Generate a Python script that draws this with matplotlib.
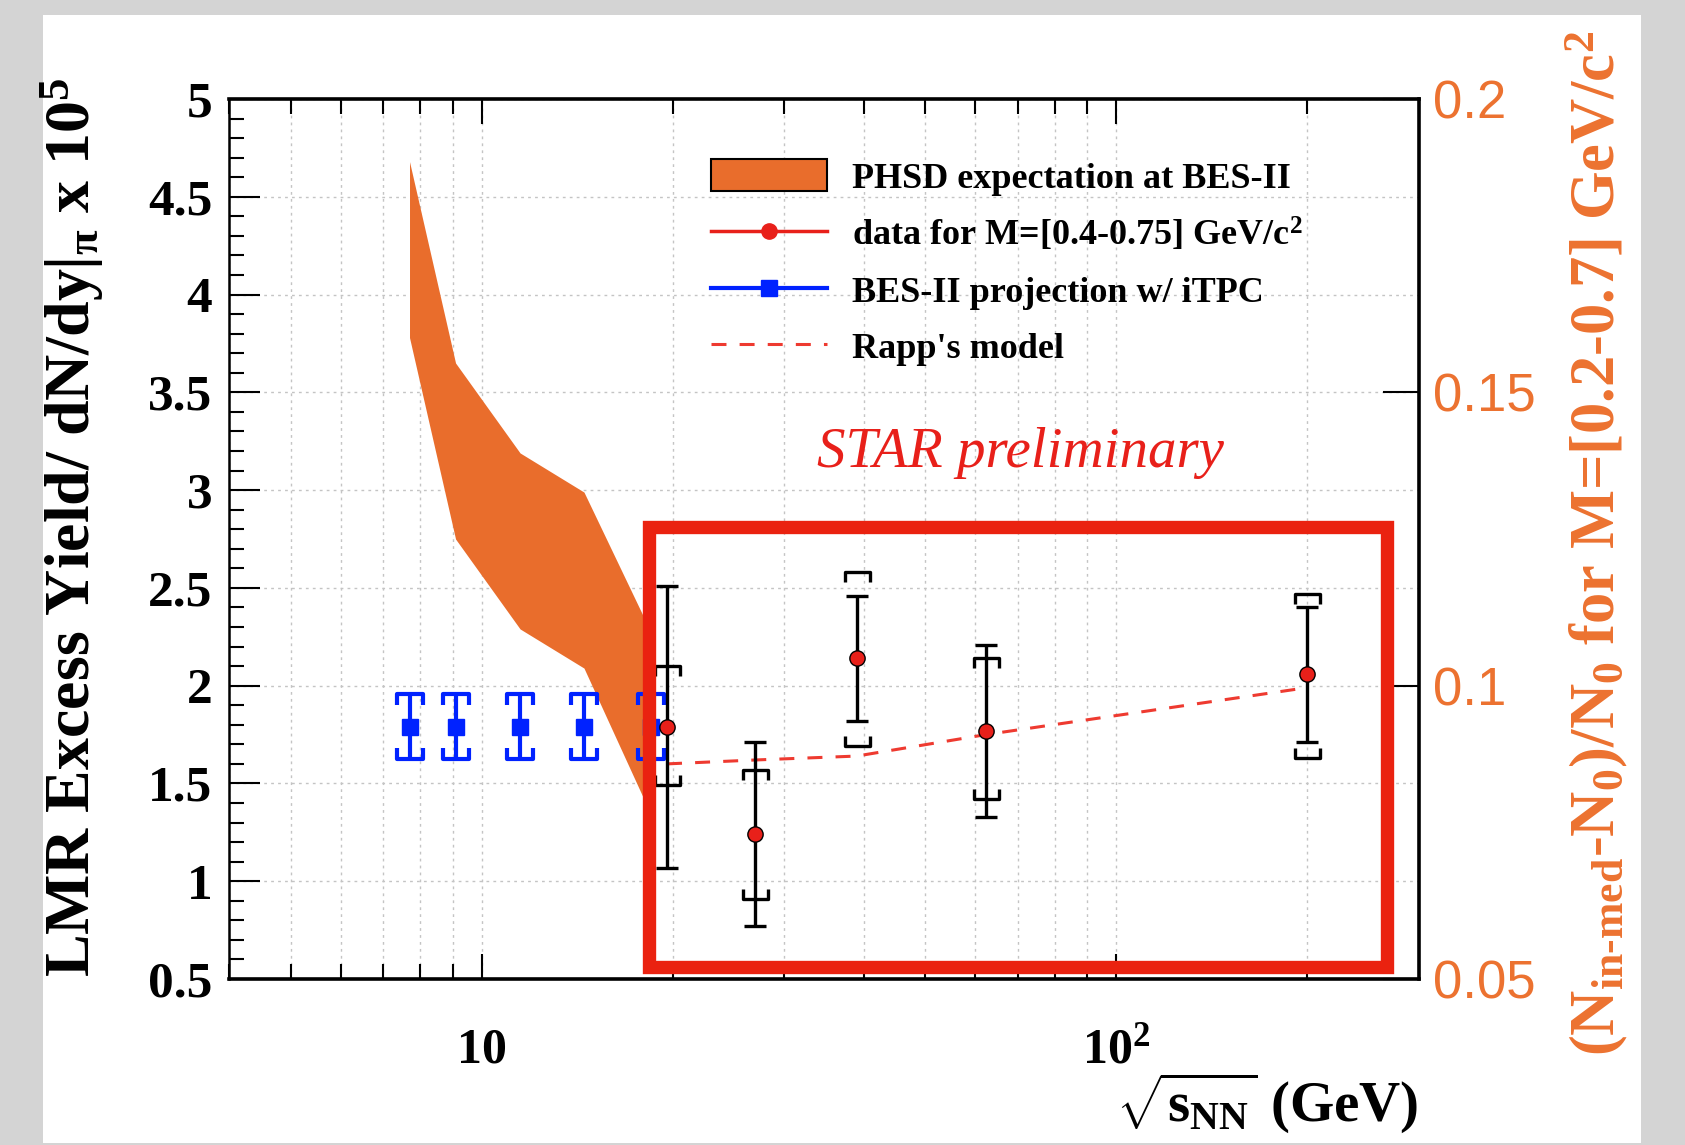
import numpy as np
import matplotlib
matplotlib.use('Agg')
import matplotlib.pyplot as plt
from matplotlib.path import Path
from matplotlib.patches import Rectangle, Patch
from matplotlib.lines import Line2D
from matplotlib.ticker import FixedLocator, MultipleLocator, NullFormatter, LogLocator

# ---------------- data ----------------
phsd_energy = [7.7, 9.1, 11.5, 14.5, 18.2]
phsd_low = [3.78, 2.75, 2.29, 2.09, 1.39]
phsd_high = [4.68, 3.65, 3.19, 2.99, 2.32]

data_energy = [19.6, 27.0, 39.0, 62.4, 200.0]
data_yield = [1.79, 1.24, 2.14, 1.77, 2.06]
data_stat_up = [0.72, 0.47, 0.32, 0.44, 0.34]
data_stat_dn = [0.72, 0.47, 0.32, 0.44, 0.35]
data_sys_up = [0.31, 0.33, 0.44, 0.37, 0.41]
data_sys_dn = [0.30, 0.33, 0.45, 0.35, 0.43]

bes2_energy = [7.7, 9.1, 11.5, 14.5, 18.5]
bes2_yield = [1.79, 1.79, 1.79, 1.79, 1.79]
bes2_err = [0.165, 0.165, 0.165, 0.165, 0.165]

rapp_energy = [19.6, 27.0, 39.0, 62.4, 200.0]
rapp_yield = [1.60, 1.62, 1.64, 1.75, 1.99]

xtick_vals = [10, 100]
xtick_labels = ['10', '10$^{2}$']
ytick_vals = [0.5, 1, 1.5, 2, 2.5, 3, 3.5, 4, 4.5, 5]
ytick_labels = ['0.5', '1', '1.5', '2', '2.5', '3', '3.5', '4', '4.5', '5']
rtick_vals = [0.05, 0.1, 0.15, 0.2]
rtick_labels = ['0.05', '0.1', '0.15', '0.2']

legend_labels = ['PHSD expectation at BES-II',
                 'data for M=[0.4-0.75] GeV/c$^{2}$',
                 'BES-II projection w/ iTPC',
                 "Rapp's model"]

# ---------------- style ----------------
ORANGE = '#E96D2C'
ORANGE_TXT = '#EC7230'
RED = '#E8201A'
RED_DASH = '#EE3A30'
BLUE = '#0022FF'
BOX_RED = '#EA2210'

plt.rcParams['font.family'] = ['Liberation Serif', 'DejaVu Serif']
plt.rcParams['font.weight'] = 'bold'
plt.rcParams['mathtext.fontset'] = 'custom'
plt.rcParams['mathtext.rm'] = 'Liberation Serif:bold'
plt.rcParams['mathtext.it'] = 'Liberation Serif:italic:bold'
plt.rcParams['mathtext.bf'] = 'Liberation Serif:bold'

W, H = 1685, 1145
fig = plt.figure(figsize=(W / 100, H / 100), dpi=100, facecolor='#D4D4D4')


def fx(x):
    return x / W


def fy(y):
    return 1 - y / H


# white page area
fig.add_artist(Rectangle((fx(43), fy(1143)), fx(1641) - fx(43), fy(15) - fy(1143),
                         transform=fig.transFigure, facecolor='white', edgecolor='none', zorder=-10))

ax = fig.add_axes([fx(229), fy(979), fx(1419) - fx(229), fy(99) - fy(979)])
ax.set_facecolor('none')
ax.set_xscale('log')
ax.set_xlim(4, 300)
ax.set_ylim(0.5, 5)

# grid
grid_kw = dict(color='#C4C4C4', lw=1.0, ls=(0, (2, 3)))
ax.grid(True, which='both', axis='x', **grid_kw)
ax.grid(True, which='major', axis='y', **grid_kw)
ax.set_axisbelow(True)

# PHSD band
ax.fill_between(phsd_energy, phsd_low, phsd_high, color=ORANGE, lw=0, zorder=2)

# bracket markers for systematic uncertainties
upper_bracket = Path([(-1, -0.8), (-1, 0), (1, 0), (1, -0.8)],
                     [Path.MOVETO, Path.LINETO, Path.LINETO, Path.LINETO])
lower_bracket = Path([(-1, 0.8), (-1, 0), (1, 0), (1, 0.8)],
                     [Path.MOVETO, Path.LINETO, Path.LINETO, Path.LINETO])

# BES-II projection
ax.errorbar(bes2_energy, bes2_yield, yerr=bes2_err, fmt='s', color=BLUE, ms=11,
            elinewidth=3, capsize=0, zorder=4)
b_up = np.array(bes2_yield) + np.array(bes2_err)
b_dn = np.array(bes2_yield) - np.array(bes2_err)
ax.plot(bes2_energy, b_up, ls='none', marker=upper_bracket, ms=19, mfc='none',
        mec=BLUE, mew=3, zorder=4)
ax.plot(bes2_energy, b_dn, ls='none', marker=lower_bracket, ms=19, mfc='none',
        mec=BLUE, mew=3, zorder=4)

# Rapp's model
ax.plot(rapp_energy, rapp_yield, color=RED_DASH, lw=2.2, ls=(0, (4.9, 4.3)), zorder=3)

# data
ax.errorbar(data_energy, data_yield, yerr=[data_stat_dn, data_stat_up], fmt='none',
            ecolor='black', elinewidth=2.4, capsize=8, capthick=2.4, zorder=5)
s_up = np.array(data_yield) + np.array(data_sys_up)
s_dn = np.array(data_yield) - np.array(data_sys_dn)
ax.plot(data_energy, s_up, ls='none', marker=upper_bracket, ms=18, mfc='none',
        mec='black', mew=2.4, zorder=5)
ax.plot(data_energy, s_dn, ls='none', marker=lower_bracket, ms=18, mfc='none',
        mec='black', mew=2.4, zorder=5)
ax.plot(data_energy, data_yield, ls='none', marker='o', ms=11, mfc=RED, mec='black',
        mew=1.0, zorder=6)

# axes / ticks
ax.xaxis.set_major_locator(FixedLocator(xtick_vals))
ax.xaxis.set_minor_locator(LogLocator(base=10, subs=np.arange(2, 10)))
ax.xaxis.set_minor_formatter(NullFormatter())
ax.set_xticklabels(xtick_labels)
ax.yaxis.set_major_locator(FixedLocator(ytick_vals))
ax.set_yticklabels(ytick_labels)
ax.yaxis.set_minor_locator(MultipleLocator(0.1))
ax.tick_params(which='both', direction='in', top=True, right=False, color='black')
ax.tick_params(axis='x', which='major', length=18, width=1.5, labelsize=36, pad=60)
ax.tick_params(axis='x', which='minor', length=11, width=1.5)
ax.tick_params(axis='y', which='major', length=22, width=1.5, labelsize=37, pad=12)
ax.tick_params(axis='y', which='minor', length=11, width=1.5)
for lbl in ax.get_xticklabels():
    lbl.set_va('baseline')
for sp in ax.spines.values():
    sp.set_linewidth(2.6)
ax.spines['left'].set_linewidth(1.8)

# right axis
ax2 = ax.twinx()
ax2.set_ylim(0.05, 0.2)
ax2.yaxis.set_major_locator(FixedLocator(rtick_vals))
ax2.set_yticklabels(rtick_labels)
ax2.tick_params(axis='y', which='major', direction='in', length=26, width=1.5,
                labelsize=38, pad=10, labelcolor=ORANGE_TXT)
for lbl in ax2.get_yticklabels():
    lbl.set_fontfamily('Liberation Sans')
    lbl.set_fontweight('normal')
for sp in ax2.spines.values():
    sp.set_visible(False)

# labels
fig.text(fx(72), fy(527),
         r'LMR Excess Yield/ dN/dy|$_{\mathrm{\pi}}$ x 10$^{\mathrm{5}}$',
         rotation=90, ha='center', va='center', fontsize=46, fontweight='bold')
fig.text(fx(1597), fy(543),
         r'(N$_{\mathrm{in\text{-}med}}$-N$_{\mathrm{0}}$)/N$_{\mathrm{0}}$ for M=[0.2-0.7] GeV/c$^{\mathrm{2}}$',
         rotation=90, ha='center', va='center', fontsize=45, fontweight='bold',
         color=ORANGE_TXT)
fig.text(fx(1418), fy(1103), r'$\sqrt{\mathrm{s}_{\mathrm{NN}}}$ (GeV)',
         ha='right', va='center', fontsize=41, fontweight='bold')
fig.text(fx(1020), fy(453), 'STAR preliminary', ha='center', va='center',
         fontsize=41, fontstyle='italic', fontweight='normal', color=RED)

# legend
handles = [Patch(facecolor=ORANGE, edgecolor='black', lw=1.5),
           Line2D([], [], color=RED, lw=2.5, marker='o', ms=11, mfc=RED, mec=RED),
           Line2D([], [], color=BLUE, lw=3, marker='s', ms=11, mfc=BLUE, mec=BLUE),
           Line2D([], [], color=RED_DASH, lw=2.2, ls=(0, (4.9, 4.3)))]
leg = ax.legend(handles, legend_labels, loc='upper left',
                bbox_to_anchor=(fx(711), fy(159)), bbox_transform=fig.transFigure,
                frameon=False, prop={'family': 'Liberation Serif', 'weight': 'bold', 'size': 26},
                handlelength=3.2, handleheight=1.0, handletextpad=0.7,
                labelspacing=0.55, borderpad=0, borderaxespad=0)
leg.set_zorder(7)

# highlight box (annotation)
fig.add_artist(Rectangle((fx(649), fy(967)), fx(1387) - fx(649), fy(527) - fy(967),
                         transform=fig.transFigure, facecolor='none', edgecolor=BOX_RED,
                         lw=9.6, zorder=20))

fig.savefig('out.png', dpi=100, facecolor=fig.get_facecolor())
